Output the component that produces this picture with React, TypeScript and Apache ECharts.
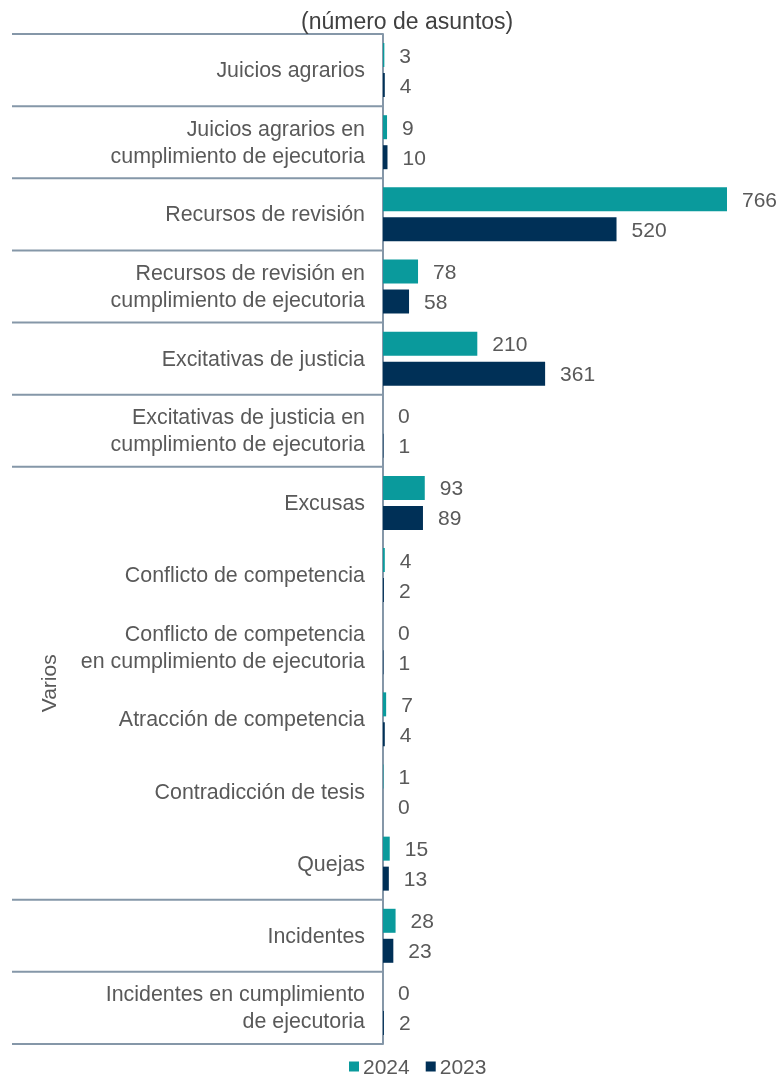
import React, { useEffect, useRef } from "react";
import * as echarts from "echarts";

const categories = [
  "Juicios agrarios",
  "Juicios agrarios en\ncumplimiento de ejecutoria",
  "Recursos de revisión",
  "Recursos de revisión en\ncumplimiento de ejecutoria",
  "Excitativas de justicia",
  "Excitativas de justicia en\ncumplimiento de ejecutoria",
  "Excusas",
  "Conflicto de competencia",
  "Conflicto de competencia\nen cumplimiento de ejecutoria",
  "Atracción de competencia",
  "Contradicción de tesis",
  "Quejas",
  "Incidentes",
  "Incidentes en cumplimiento\nde ejecutoria",
];

const values2024 = [3, 9, 766, 78, 210, 0, 93, 4, 0, 7, 1, 15, 28, 0];
const values2023 = [4, 10, 520, 58, 361, 1, 89, 2, 1, 4, 0, 13, 23, 2];

const seriesNames = ["2024", "2023"];
const groupLabel = "Varios";
const groupStart = 6;
const groupEnd = 11;
const subtitle = "(número de asuntos)";

const TEAL = "#0A9A9C";
const NAVY = "#003057";
const TEXT = "#595959";
const LINE = "#8597A8";
const FONT = "Liberation Sans, Arial, sans-serif";

export default function App() {
  const ref = useRef<HTMLDivElement>(null);

  useEffect(() => {
    if (!ref.current) return;
    const chart = echarts.init(ref.current, undefined, { renderer: "svg" });
    const labelStyle = {
      show: true,
      position: "right" as const,
      distance: 15,
      fontSize: 21,
      color: TEXT,
      fontFamily: FONT,
    };
    chart.setOption({
      animation: false,
      textStyle: { fontFamily: FONT },
      title: {
        text: subtitle,
        left: 296,
        top: 4,
        textStyle: { fontSize: 23, fontWeight: "normal", color: "#404040", fontFamily: FONT },
      },
      legend: {
        data: seriesNames,
        left: 344,
        top: 1051,
        icon: "rect",
        itemWidth: 10,
        itemHeight: 10,
        itemGap: 16,
        textStyle: { fontSize: 21, lineHeight: 21, color: TEXT, fontFamily: FONT, padding: [0, 0, 0, -1] },
      },
      grid: { left: 383, top: 34, right: 50, height: 1010 },
      xAxis: { type: "value", min: 0, max: 766, show: false },
      yAxis: {
        type: "category",
        inverse: true,
        data: categories,
        axisLine: { show: true, lineStyle: { color: LINE, width: 2 } },
        axisTick: { show: false },
        splitLine: { show: false },
        axisLabel: {
          fontSize: 21.4,
          color: TEXT,
          margin: 18,
          lineHeight: 27,
          align: "right",
          fontFamily: FONT,
        },
      },
      series: [
        {
          name: seriesNames[0],
          type: "bar",
          data: values2024,
          barWidth: 24,
          barGap: "25%",
          itemStyle: { color: TEAL },
          label: labelStyle,
        },
        {
          name: seriesNames[1],
          type: "bar",
          data: values2023,
          barWidth: 24,
          barGap: "25%",
          itemStyle: { color: NAVY },
          label: labelStyle,
        },
      ],
    });

    const p0 = chart.convertToPixel({ yAxisIndex: 0 }, 0) as number;
    const p1 = chart.convertToPixel({ yAxisIndex: 0 }, 1) as number;
    const band = p1 - p0;
    const boundaries: number[] = [];
    for (let k = 0; k <= categories.length; k++) {
      if (k > groupStart && k <= groupEnd) continue;
      boundaries.push(p0 - band / 2 + k * band);
    }
    const axisX = chart.convertToPixel({ xAxisIndex: 0 }, 0) as number;
    const groupMid = p0 + ((groupStart + groupEnd) / 2) * band;

    chart.setOption({
      graphic: [
        ...boundaries.map((y) => ({
          type: "line",
          shape: { x1: 12, y1: y, x2: axisX, y2: y },
          style: { stroke: LINE, lineWidth: 2 },
          silent: true,
        })),
        {
          type: "text",
          x: 48,
          y: groupMid,
          rotation: Math.PI / 2,
          style: {
            text: groupLabel,
            fontSize: 21,
            fill: TEXT,
            fontFamily: FONT,
            align: "center",
            verticalAlign: "middle",
          },
        },
      ],
    });

    return () => chart.dispose();
  }, []);

  return (
    <div
      ref={ref}
      style={{ position: "fixed", left: 0, top: 0, width: 777, height: 1078 }}
    />
  );
}
